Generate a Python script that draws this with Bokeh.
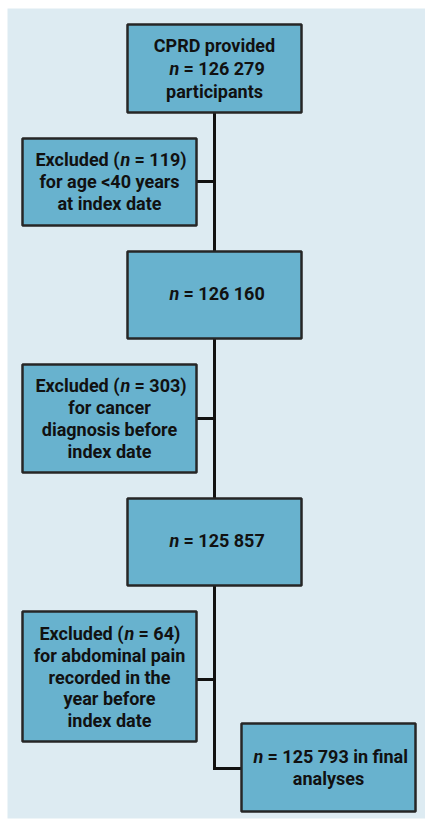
from bokeh.plotting import figure
from bokeh.models import Range1d, ColumnDataSource
from bokeh.core.properties import value
from bokeh.embed import file_html
from bokeh.resources import INLINE

# ---- data ----
provided_n = 126279
excluded_n = [119, 303, 64]
remaining_n = [126160, 125857]
final_n = 125793
exclusion_reasons = [
    ["for age <40 years", "at index date"],
    ["for cancer", "diagnosis before", "index date"],
    ["for abdominal pain", "recorded in the", "year before", "index date"],
]

def fmt(v):
    return f"{v:,}".replace(",", " ")

# ---- layout (screen px) ----
BG = "#ddebf2"
FILL = "#68b2ce"
EDGE = "#262626"
FONT = "Roboto"
FS = "18px"

main_boxes = dict(left=[127, 127, 127, 241], right=[301, 301, 301, 415],
                  top=[24, 251, 498, 723], bottom=[112, 338, 585, 811])
excl_boxes = dict(left=[22, 22, 22], right=[196, 196, 196],
                  top=[138, 364, 611], bottom=[225, 472, 741])
branch_y = [181, 418, 679]
spine_x = 214

p = figure(width=425, height=821, x_range=Range1d(0, 425), y_range=Range1d(821, 0),
           output_backend="svg", toolbar_location=None, min_border=0)
p.xaxis.visible = False
p.yaxis.visible = False
p.xgrid.visible = False
p.ygrid.visible = False
p.outline_line_color = None
p.background_fill_color = "white"
p.border_fill_color = "white"

# panel
p.quad(left=[7], right=[425], top=[8], bottom=[818], fill_color=BG, line_color=None)

# connectors
p.segment(x0=[spine_x], y0=[112], x1=[spine_x], y1=[768], line_color="#111111", line_width=3)
p.segment(x0=[spine_x - 1.5], y0=[768], x1=[241], y1=[768], line_color="#111111", line_width=3)
p.segment(x0=[196] * 3, y0=branch_y, x1=[spine_x] * 3, y1=branch_y, line_color="#111111", line_width=3)

# boxes
p.quad(source=ColumnDataSource(main_boxes), left="left", right="right", top="top", bottom="bottom",
       fill_color=FILL, line_color=EDGE, line_width=2.5)
p.quad(source=ColumnDataSource(excl_boxes), left="left", right="right", top="top", bottom="bottom",
       fill_color=FILL, line_color=EDGE, line_width=2.5)

center = dict(x=[], y=[], t=[])
right = dict(x=[], y=[], t=[])
left = dict(x=[], y=[], t=[])
ital = dict(x=[], y=[], t=[])

def add(d, x, y, t):
    d["x"].append(x); d["y"].append(y); d["t"].append(t)

def n_line(y, nx, prefix, suffix):
    if prefix:
        add(right, nx - 1, y, prefix)
    add(ital, nx, y, "n")
    add(left, nx + 14, y, suffix)

# box 1
add(center, 214, 45, "CPRD provided")
n_line(68, 169, "", "= " + fmt(provided_n))
add(center, 214, 91, "participants")
# exclusion 1
n_line(159, 120, "Excluded (", "= " + fmt(excluded_n[0]) + ")")
for i, s in enumerate(exclusion_reasons[0]):
    add(center, 109, 181 + 22 * i, s)
# box 2
n_line(293, 169, "", "= " + fmt(remaining_n[0]))
# exclusion 2
n_line(385, 120, "Excluded (", "= " + fmt(excluded_n[1]) + ")")
for i, s in enumerate(exclusion_reasons[1]):
    add(center, 109, 407 + 22 * i, s)
# box 3
n_line(540, 169, "", "= " + fmt(remaining_n[1]))
# exclusion 3
n_line(633, 124, "Excluded (", "= " + fmt(excluded_n[2]) + ")")
for i, s in enumerate(exclusion_reasons[2]):
    add(center, 109, 655 + 21.7 * i, s)
# final
n_line(756, 253, "", "= " + fmt(final_n) + " in final")
add(center, 328, 778, "analyses")

for d, align, style in [(center, "center", "bold"), (right, "right", "bold"),
                        (left, "left", "bold"), (ital, "left", "bold italic")]:
    p.text(x="x", y="y", text="t", source=ColumnDataSource(d), text_align=align,
           text_baseline="middle", text_font=value(FONT), text_font_size=FS,
           text_font_style=style, text_color="#111111")

open("out.html", "w").write(file_html(p, INLINE))
